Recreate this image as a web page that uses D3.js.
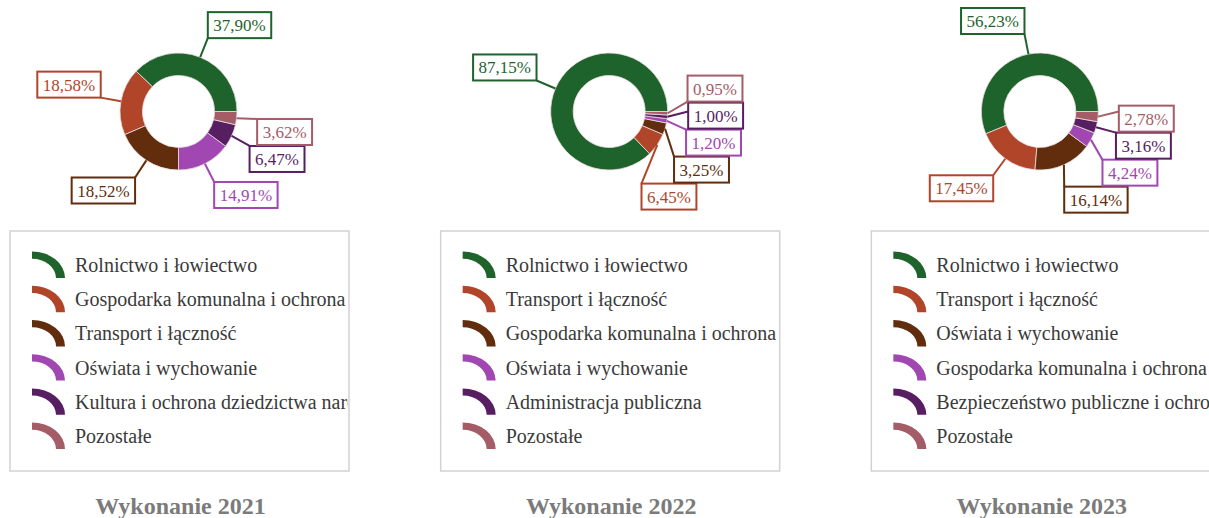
<!DOCTYPE html>
<meta charset="utf-8">
<style>
body{
    margin: 0;
    background: #fff;
}
svg{
    display: block;
    font-family: "Liberation Serif", "Times New Roman", serif;
}
.legend-box{
    fill: none;
    stroke: #d2d2d2;
    stroke-width: 1.5;
}
.legend-text{
    font-size: 20px;
    fill: #3a3a3a;
}
.title{
    font-size: 24px;
    font-weight: bold;
    fill: #7b7b7b;
    text-anchor: middle;
}
.label-box{
    fill: #fff;
    stroke-width: 2;
}
.label-text{
    font-size: 17px;
}
.slice{
    stroke: #eadede;
    stroke-width: 0.8;
}
</style>
<svg width="1209" height="518"></svg>
<script src="https://cdnjs.cloudflare.com/ajax/libs/d3/7.8.5/d3.min.js"></script>
<script>

var titles = ['Wykonanie 2021', 'Wykonanie 2022', 'Wykonanie 2023'];

var cats2021 = ['Rolnictwo i łowiectwo', 'Gospodarka komunalna i ochrona środowiska', 'Transport i łączność',
    'Oświata i wychowanie', 'Kultura i ochrona dziedzictwa narodowego', 'Pozostałe'];
var vals2021 = [37.90, 18.58, 18.52, 14.91, 6.47, 3.62];

var cats2022 = ['Rolnictwo i łowiectwo', 'Transport i łączność', 'Gospodarka komunalna i ochrona środowiska',
    'Oświata i wychowanie', 'Administracja publiczna', 'Pozostałe'];
var vals2022 = [87.15, 6.45, 3.25, 1.20, 1.00, 0.95];

var cats2023 = ['Rolnictwo i łowiectwo', 'Transport i łączność', 'Oświata i wychowanie',
    'Gospodarka komunalna i ochrona środowiska', 'Bezpieczeństwo publiczne i ochrona przeciwpożarowa', 'Pozostałe'];
var vals2023 = [56.23, 17.45, 16.14, 4.24, 3.16, 2.78];

var colour = ['#1e632c', '#b0452a', '#612d0c', '#a147b1', '#571e62', '#a45c67'];

var panels = [
    {title: titles[0], cats: cats2021, vals: vals2021},
    {title: titles[1], cats: cats2022, vals: vals2022},
    {title: titles[2], cats: cats2023, vals: vals2023}
];

var svg = d3.select('svg');

var panelX = d3.scaleBand()
    .domain(titles)
    .range([0, 1292]);

var outerR = 58.5, innerR = 36, labelR = 79;
var donutX = 178.5, donutY = 111.5;
var boxH = 26, boxPad = 5.5;

var arc = d3.arc().innerRadius(innerR).outerRadius(outerR);

var pie = d3.pie()
    .sort(null)
    .startAngle(Math.PI / 2)
    .endAngle(Math.PI / 2 - 2 * Math.PI);

var fmt = function(v){ return v.toFixed(2).replace('.', ',') + '%'; };

// legend row scale
var rowY = d3.scaleLinear().domain([0, 5]).range([278, 449]);

// legend icon: squashed quarter ring
var iconArc = d3.arc()
    .innerRadius(24)
    .outerRadius(33)
    .startAngle(0)
    .endAngle(Math.PI / 2);

svg.append('defs').selectAll('clipPath')
    .data(panels)
    .enter()
    .append('clipPath')
        .attr('id', function(d, i){ return 'clip' + i; })
    .append('rect')
        .attr('x', 10)
        .attr('y', 231)
        .attr('width', 338)
        .attr('height', 240);

panels.forEach(function(p, pi){
    var g = svg.append('g')
        .attr('transform', 'translate(' + panelX(p.title) + ',0)');

    drawDonut(g, p);

    // legend
    g.append('rect')
        .attr('class', 'legend-box')
        .attr('x', 10)
        .attr('y', 231)
        .attr('width', 339)
        .attr('height', 240);

    var lg = g.append('g').attr('clip-path', 'url(#clip' + pi + ')');
    var rows = lg.selectAll('g.row')
        .data(p.cats)
        .enter()
        .append('g')
            .attr('class', 'row')
            .attr('transform', function(d, i){ return 'translate(0,' + rowY(i) + ')'; });

    rows.append('path')
        .attr('d', iconArc())
        .attr('transform', 'translate(32,0) scale(1,0.8)')
        .attr('fill', function(d, i){ return colour[i]; });

    rows.append('text')
        .attr('class', 'legend-text')
        .attr('x', 75)
        .attr('y', -6)
        .text(function(d){ return d; });

    g.append('text')
        .attr('class', 'title')
        .attr('x', donutX + 2)
        .attr('y', 514)
        .text(p.title);
});

function drawDonut(parent, p){
    var arcs = pie(p.vals);
    var dg = parent.append('g')
        .attr('transform', 'translate(' + donutX + ',' + donutY + ')');

    dg.selectAll('path.slice')
        .data(arcs)
        .enter()
        .append('path')
            .attr('class', 'slice')
            .attr('d', arc)
            .attr('fill', function(d, i){ return colour[i]; });

    // label layout
    var labels = arcs.map(function(d, i){
        var a = (d.startAngle + d.endAngle) / 2;
        var sx = Math.sin(a), sy = -Math.cos(a);
        var ay = labelR * sy;
        return {
            i: i,
            text: fmt(p.vals[i]),
            right: sx >= 0,
            ox: outerR * sx,
            oy: outerR * sy,
            cy: ay + (sy >= 0 ? 1 : -1) * boxH / 2
        };
    });

    [true, false].forEach(function(side){
        var group = labels.filter(function(l){ return l.right == side; })
            .sort(function(a, b){ return a.cy - b.cy; });
        for(var it = 0; it < 60; it++){
            for(var k = 0; k < group.length - 1; k++){
                var gap = group[k + 1].cy - group[k].cy;
                var need = boxH + 1;
                if(gap < need){
                    var shift = (need - gap) / 2;
                    group[k].cy -= shift;
                    group[k + 1].cy += shift;
                }
            }
        }
    });

    labels.forEach(function(l){
        var top = l.cy - boxH / 2, bottom = l.cy + boxH / 2;
        var ay = bottom < 0 ? bottom : (top > 0 ? top : 0);
        var ax = Math.sqrt(Math.max(0, labelR * labelR - ay * ay));
        l.ay = ay;
        l.ax = l.right ? ax : -ax;
        l.top = top;
    });

    var lab = dg.selectAll('g.label')
        .data(labels)
        .enter()
        .append('g')
            .attr('class', 'label');

    lab.append('line')
        .attr('x1', function(d){ return d.ox; })
        .attr('y1', function(d){ return d.oy; })
        .attr('x2', function(d){ return d.ax; })
        .attr('y2', function(d){ return d.ay; })
        .attr('stroke', function(d){ return colour[d.i]; })
        .attr('stroke-width', 2);

    var rect = lab.append('rect')
        .attr('class', 'label-box')
        .attr('stroke', function(d){ return colour[d.i]; });

    var txt = lab.append('text')
        .attr('class', 'label-text')
        .attr('fill', function(d){ return colour[d.i]; })
        .text(function(d){ return d.text; });

    txt.each(function(d){
        d.w = this.getComputedTextLength() + boxPad * 2;
        d.bx = d.right ? d.ax : d.ax - d.w;
    });

    rect.attr('x', function(d){ return d.bx; })
        .attr('y', function(d){ return d.top; })
        .attr('width', function(d){ return d.w; })
        .attr('height', boxH);

    txt.attr('x', function(d){ return d.bx + boxPad; })
        .attr('y', function(d){ return d.top + boxH / 2 + 6; });
}

</script>
